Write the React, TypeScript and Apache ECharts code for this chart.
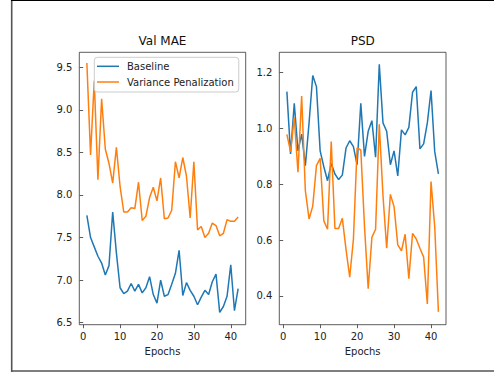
import React, { useEffect, useRef } from "react";
import * as echarts from "echarts";

const epochs = [1, 2, 3, 4, 5, 6, 7, 8, 9, 10, 11, 12, 13, 14, 15, 16, 17, 18, 19, 20, 21, 22, 23, 24, 25, 26, 27, 28, 29, 30, 31, 32, 33, 34, 35, 36, 37, 38, 39, 40, 41, 42];

const maeBaseline = [7.76, 7.5, 7.39, 7.28, 7.2, 7.06, 7.17, 7.8, 7.32, 6.91, 6.84, 6.87, 6.96, 6.87, 6.95, 6.85, 6.91, 7.04, 6.83, 6.73, 7.0, 6.81, 6.83, 6.95, 7.08, 7.35, 6.82, 6.97, 6.88, 6.81, 6.71, 6.8, 6.88, 6.83, 6.98, 7.07, 6.62, 6.69, 6.81, 7.18, 6.64, 6.9];
const maeVariance = [9.55, 8.47, 9.34, 8.18, 9.13, 8.54, 8.37, 8.14, 8.56, 8.1, 7.8, 7.8, 7.85, 7.84, 8.15, 7.7, 7.75, 7.97, 8.09, 7.93, 8.2, 7.72, 7.73, 7.82, 8.39, 8.2, 8.44, 8.22, 7.73, 8.39, 7.59, 7.63, 7.5, 7.55, 7.67, 7.64, 7.52, 7.55, 7.71, 7.69, 7.69, 7.74];

const psdBaseline = [1.132, 0.909, 1.09, 0.92, 0.98, 0.867, 1.02, 1.19, 1.15, 0.92, 0.863, 0.813, 0.875, 0.837, 0.817, 0.833, 0.93, 0.956, 0.935, 0.87, 1.09, 0.9, 0.99, 1.028, 0.897, 1.23, 1.02, 0.99, 0.87, 0.92, 0.83, 0.995, 0.977, 1.004, 1.13, 1.15, 0.927, 0.945, 1.02, 1.136, 0.917, 0.837];
const psdVariance = [0.979, 0.917, 1.04, 0.843, 1.116, 0.777, 0.676, 0.722, 0.867, 0.893, 0.669, 0.639, 0.953, 0.642, 0.642, 0.678, 0.567, 0.467, 0.603, 0.93, 0.923, 0.65, 0.426, 0.61, 0.639, 1.015, 0.76, 0.571, 0.764, 0.72, 0.583, 0.562, 0.621, 0.462, 0.624, 0.604, 0.571, 0.539, 0.371, 0.81, 0.648, 0.343];

const xTicks = [0, 10, 20, 30, 40];
const maeTicks = [6.5, 7.0, 7.5, 8.0, 8.5, 9.0, 9.5];
const psdTicks = [0.4, 0.6, 0.8, 1.0, 1.2];

const seriesNames = ["Baseline", "Variance Penalization"];
const titles = ["Val MAE", "PSD"];
const xLabel = "Epochs";

const BLUE = "#1f77b4";
const ORANGE = "#ff7f0e";
const FONT = "DejaVu Sans";

const pairs = (ys: number[]) => ys.map((v, i) => [epochs[i], v]);

export default function App() {
  const ref = useRef<HTMLDivElement>(null);
  useEffect(() => {
    if (!ref.current) return;
    const chart = echarts.init(ref.current, undefined, { renderer: "svg" });

    const xAxisBase = (gi: number) => ({
      type: "value",
      gridIndex: gi,
      min: -1.05,
      max: 44.05,
      name: xLabel,
      nameLocation: "middle",
      nameGap: 20,
      nameTextStyle: { fontFamily: FONT, fontSize: 10, color: "#222", verticalAlign: "top" },
      axisLine: { show: false },
      splitLine: { show: false },
      axisTick: { show: true, length: 3.5, customValues: xTicks, lineStyle: { color: "#333", width: 0.8 } },
      axisLabel: {
        customValues: xTicks,
        fontFamily: FONT,
        fontSize: 10,
        color: "#222",
        margin: 7,
        formatter: (v: number) => String(v),
      },
    });
    const yAxisBase = (gi: number, min: number, max: number, ticks: number[]) => ({
      type: "value",
      gridIndex: gi,
      min,
      max,
      axisLine: { show: false },
      splitLine: { show: false },
      axisTick: { show: true, length: 3.5, customValues: ticks, lineStyle: { color: "#333", width: 0.8 } },
      axisLabel: {
        customValues: ticks,
        fontFamily: FONT,
        fontSize: 10,
        color: "#222",
        margin: 7,
        formatter: (v: number) => v.toFixed(1),
      },
    });

    const lineSeries = (name: string, data: number[], color: string, gi: number) => ({
      type: "line",
      name,
      xAxisIndex: gi,
      yAxisIndex: gi,
      data: pairs(data),
      showSymbol: false,
      symbol: "none",
      lineStyle: { color, width: 1.5 },
      itemStyle: { color },
      z: 2,
    });

    chart.setOption({
      animation: false,
      backgroundColor: "#ffffff",
      grid: [
        { left: 79.3, top: 52.3, width: 166.4, height: 272.4, show: true, borderColor: "#333", borderWidth: 0.8, backgroundColor: "transparent" },
        { left: 279.3, top: 52.3, width: 166.7, height: 272.4, show: true, borderColor: "#333", borderWidth: 0.8, backgroundColor: "transparent" },
      ],
      xAxis: [xAxisBase(0), xAxisBase(1)],
      yAxis: [yAxisBase(0, 6.476, 9.676, maeTicks), yAxisBase(1, 0.297, 1.273, psdTicks)],
      legend: {
        show: true,
        data: seriesNames,
        orient: "vertical",
        left: 94.3,
        top: 57.3,
        padding: [3, 5, 4, 2.7],
        itemGap: 3.7,
        itemWidth: 22,
        itemHeight: 1.5,
        icon: "rect",
        backgroundColor: "rgba(255,255,255,0.8)",
        borderColor: "#cccccc",
        borderWidth: 1,
        borderRadius: 3,
        selectedMode: false,
        textStyle: { fontFamily: FONT, fontSize: 10, color: "#222", lineHeight: 12, padding: [0, 0, 0, 3] },
        z: 10,
      },
      graphic: [
        { type: "text", x: 162.5, y: 41, style: { text: titles[0], fontFamily: FONT, fontSize: 12, fill: "#111", textAlign: "center", textVerticalAlign: "middle" } },
        { type: "text", x: 362.7, y: 41, style: { text: titles[1], fontFamily: FONT, fontSize: 12, fill: "#111", textAlign: "center", textVerticalAlign: "middle" } },
        { type: "line", shape: { x1: 11.7, y1: 0, x2: 11.7, y2: 372 }, style: { stroke: "#555", lineWidth: 1.6 } },
        { type: "line", shape: { x1: 11, y1: 0.5, x2: 494, y2: 0.5 }, style: { stroke: "#000", lineWidth: 1.2 } },
        { type: "line", shape: { x1: 11, y1: 371, x2: 494, y2: 371 }, style: { stroke: "#555", lineWidth: 1.6 } },
      ],
      series: [
        lineSeries(seriesNames[0], maeBaseline, BLUE, 0),
        lineSeries(seriesNames[1], maeVariance, ORANGE, 0),
        lineSeries(seriesNames[0], psdBaseline, BLUE, 1),
        lineSeries(seriesNames[1], psdVariance, ORANGE, 1),
      ],
    });
    return () => chart.dispose();
  }, []);
  return (
    <div
      ref={ref}
      style={{ position: "fixed", left: 0, top: 0, width: 494, height: 372 }}
    />
  );
}
